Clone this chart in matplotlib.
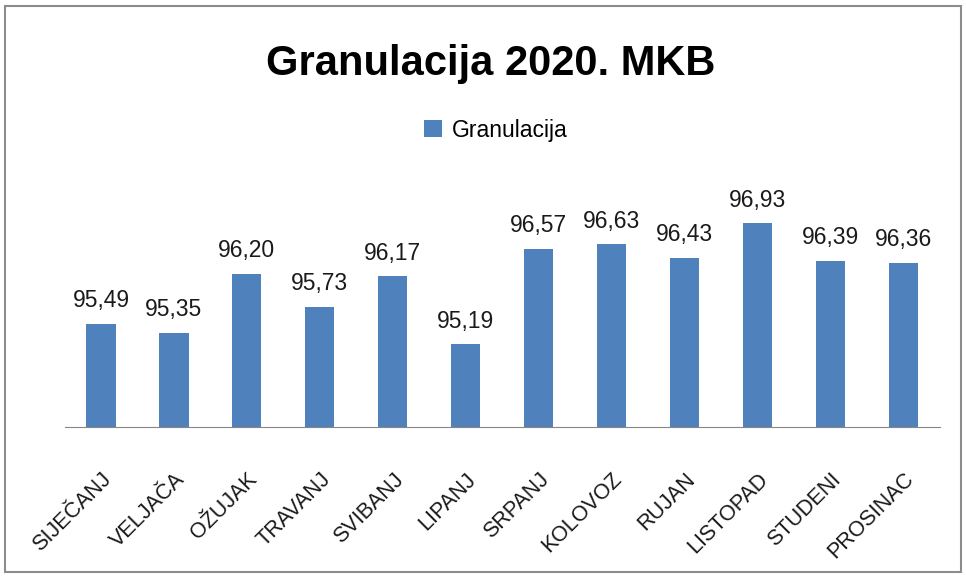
import matplotlib
matplotlib.use("Agg")
import matplotlib.pyplot as plt
from matplotlib.patches import Rectangle

months = ["SIJEČANJ", "VELJAČA", "OŽUJAK", "TRAVANJ", "SVIBANJ", "LIPANJ",
          "SRPANJ", "KOLOVOZ", "RUJAN", "LISTOPAD", "STUDENI", "PROSINAC"]
values = [95.49, 95.35, 96.20, 95.73, 96.17, 95.19,
          96.57, 96.63, 96.43, 96.93, 96.39, 96.36]
series_name = "Granulacija"
title = "Granulacija 2020. MKB"

bar_color = "#4F81BD"
font = ["Liberation Sans", "DejaVu Sans"]

fig = plt.figure(figsize=(9.66, 5.78), dpi=100)
fig.patches.append(Rectangle((0.005, 0.01), 0.99, 0.98, transform=fig.transFigure,
                             fill=False, edgecolor="#8c8c8c", linewidth=1.5))
ax = fig.add_axes([0.0668, 0.261, 0.906, 0.481])

x = range(len(months))
bars = ax.bar(x, values, width=0.4, color=bar_color, label=series_name)
ax.set_ylim(94, 98)
ax.set_xlim(-0.5, len(months) - 0.5)

for xi, v in zip(x, values):
    ax.text(xi, v + 0.17, f"{v:.2f}".replace(".", ","), ha="center", va="bottom",
            fontsize=16.5, family=font, color="#1a1a1a")

for s in ["top", "right", "left"]:
    ax.spines[s].set_visible(False)
ax.spines["bottom"].set_color("#868686")
ax.set_yticks([])
ax.set_xticks(list(x))
ax.set_xticklabels(months, rotation=45, ha="right", rotation_mode="anchor",
                   fontsize=15.5, family=font, color="#1a1a1a")
ax.tick_params(axis="x", length=0, pad=30)

fig.text(0.508, 0.89, title, ha="center", va="center", fontsize=30,
         fontweight="bold", family=font)
fig.legend(handles=[bars], labels=[series_name], loc="center",
           bbox_to_anchor=(0.513, 0.775), frameon=False, handlelength=0.8,
           handleheight=0.8, handletextpad=0.4, prop={"family": font, "size": 16.5})

fig.savefig("out.png", dpi=100)
